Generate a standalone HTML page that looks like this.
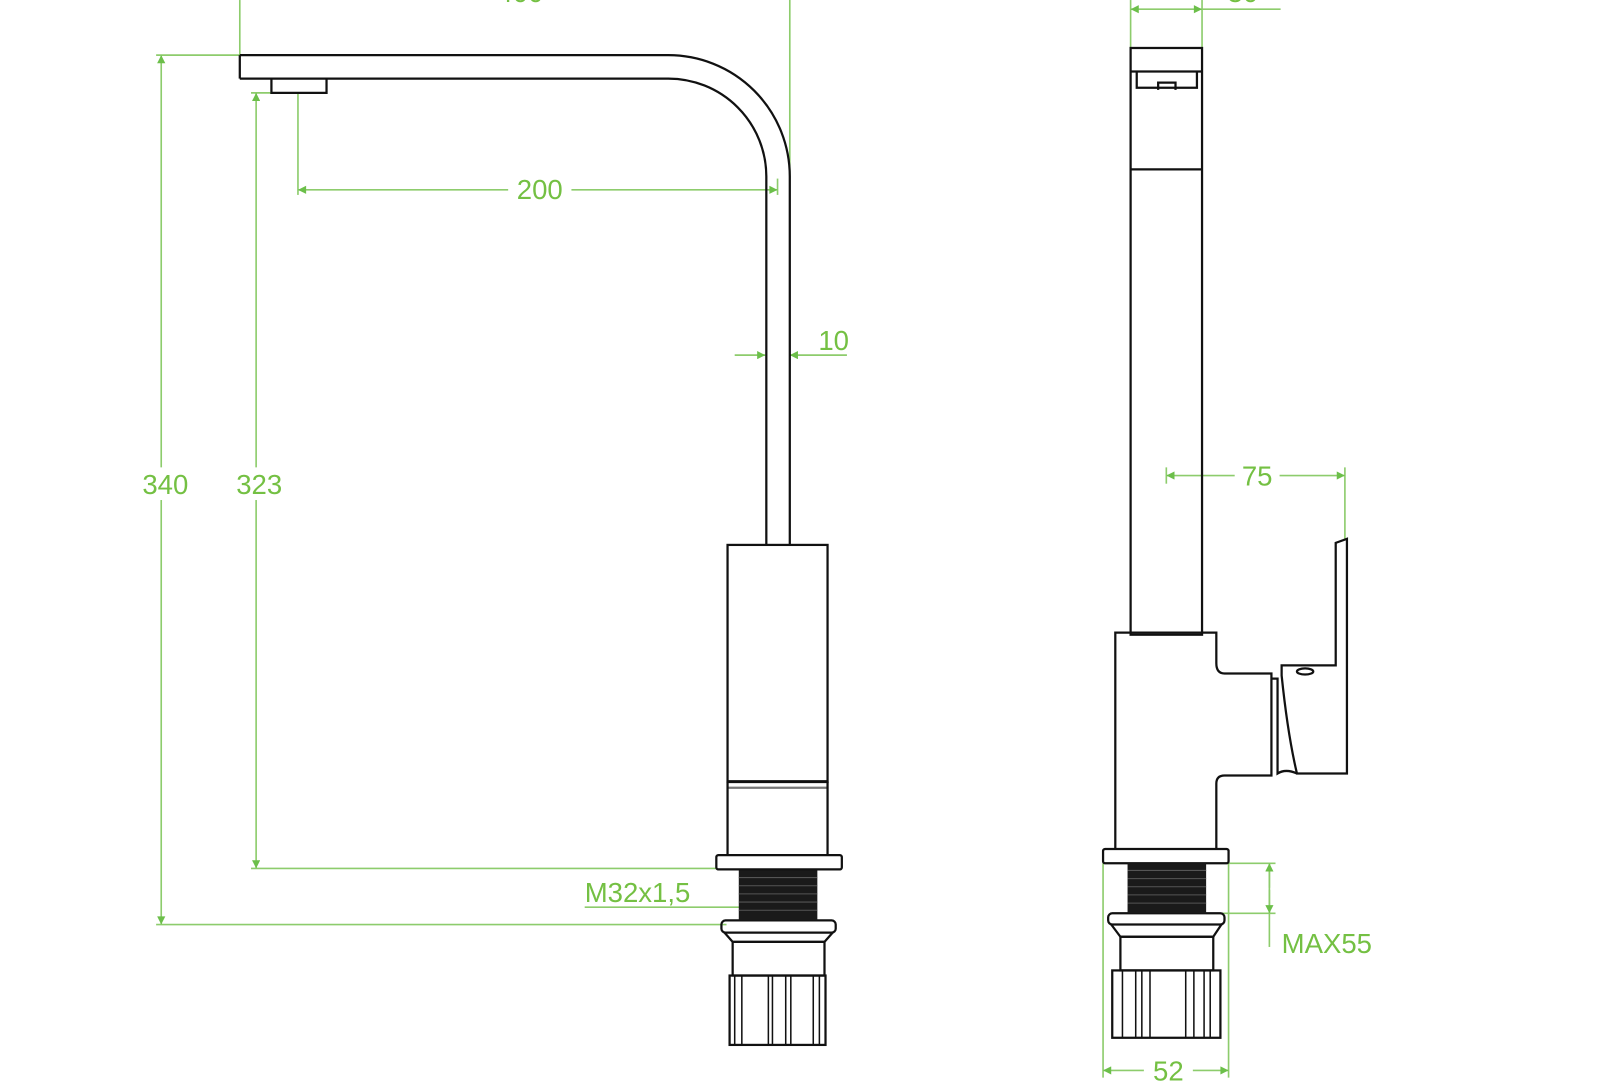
<!DOCTYPE html>
<html><head><meta charset="utf-8"><style>html,body{margin:0;padding:0;background:#fff}svg{display:block}</style></head>
<body>
<svg width="1600" height="1088" viewBox="0 0 1568 1066.2" xmlns="http://www.w3.org/2000/svg">
<defs>
<marker id="a" viewBox="0 0 10 10" refX="10" refY="5" markerWidth="13" markerHeight="8" markerUnits="userSpaceOnUse" orient="auto"><path d="M0,0L10,5L0,10z" fill="#6cbf4a"/></marker>
<marker id="s" viewBox="0 0 10 10" refX="0" refY="5" markerWidth="13" markerHeight="8" markerUnits="userSpaceOnUse" orient="auto"><path d="M10,0L0,5L10,10z" fill="#6cbf4a"/></marker>
</defs>
<g fill="none" stroke="#8dcc6c" stroke-width="1.6">
<line x1="235" y1="0" x2="235" y2="54"/><line x1="774" y1="0" x2="774" y2="175"/>
<line x1="153" y1="54" x2="235" y2="54"/><line x1="153" y1="906" x2="712" y2="906"/>
<line x1="158" y1="54" x2="158" y2="906" marker-start="url(#s)" marker-end="url(#a)"/>
<line x1="246" y1="91" x2="266" y2="91"/><line x1="246" y1="851" x2="702" y2="851"/>
<line x1="251" y1="91" x2="251" y2="851" marker-start="url(#s)" marker-end="url(#a)"/>
<line x1="292" y1="91" x2="292" y2="191"/><line x1="762" y1="175" x2="762" y2="191"/>
<line x1="292" y1="186" x2="762" y2="186" marker-start="url(#s)" marker-end="url(#a)"/>
<line x1="720" y1="348" x2="750" y2="348" marker-end="url(#a)"/>
<line x1="830" y1="348" x2="774" y2="348" marker-end="url(#a)"/>
<line x1="573" y1="889" x2="725" y2="889"/>
<line x1="1108" y1="0" x2="1108" y2="47"/><line x1="1178" y1="0" x2="1178" y2="47"/>
<line x1="1108" y1="9" x2="1178" y2="9" marker-start="url(#s)" marker-end="url(#a)"/>
<line x1="1178" y1="9" x2="1255" y2="9"/>
<line x1="1143" y1="458" x2="1143" y2="474"/><line x1="1318" y1="458" x2="1318" y2="528"/>
<line x1="1143" y1="466" x2="1318" y2="466" marker-start="url(#s)" marker-end="url(#a)"/>
<line x1="1204" y1="846" x2="1250" y2="846"/><line x1="1182" y1="895" x2="1250" y2="895"/>
<line x1="1244" y1="846" x2="1244" y2="928"/>
<line x1="1244" y1="870" x2="1244" y2="846" marker-end="url(#a)"/>
<line x1="1244" y1="872" x2="1244" y2="895" marker-end="url(#a)"/>
<line x1="1081" y1="846" x2="1081" y2="1056"/><line x1="1204" y1="846" x2="1204" y2="1056"/>
<line x1="1081" y1="1049" x2="1204" y2="1049" marker-start="url(#s)" marker-end="url(#a)"/>
</g>
<g font-family="Liberation Sans, sans-serif" font-size="27" fill="#74c043" text-anchor="middle">
<rect x="134" y="458" width="56" height="32" fill="#fff"/><text x="162" y="484">340</text>
<rect x="226" y="458" width="56" height="32" fill="#fff"/><text x="254" y="484">323</text>
<rect x="498" y="170" width="62" height="32" fill="#fff"/><text x="529" y="195">200</text>
<text x="817" y="343">10</text>
<rect x="1210" y="450" width="44" height="32" fill="#fff"/><text x="1232" y="476">75</text>
<rect x="1121" y="1033" width="48" height="32" fill="#fff"/><text x="1145" y="1059">52</text>
<text x="1256" y="934" text-anchor="start">MAX55</text>
<text x="573" y="884" text-anchor="start">M32x1,5</text>
<text x="510" y="2">400</text><text x="1218" y="2">30</text>
</g>
<g fill="none" stroke="#111" stroke-width="2.2">
<path d="M235,54H655A119,119 0 0 1 774,173V534"/>
<path d="M235,77H655A96,96 0 0 1 751,173V534"/>
<line x1="235" y1="54" x2="235" y2="77"/>
<path d="M266,77V91H320V77"/>
<rect x="713" y="534" width="98" height="232"/>
<line x1="713" y1="766" x2="811" y2="766" stroke-width="3"/>
<line x1="713" y1="772" x2="811" y2="772" stroke="#777"/>
<path d="M713,766V838M811,766V838"/>
<rect x="702" y="838" width="123" height="14" rx="2"/>
<rect x="707" y="902" width="112" height="12" rx="4"/>
<path d="M710,914L718,923H808L816,914"/>
<rect x="718" y="923" width="90" height="33"/>
<rect x="715" y="956" width="94" height="68"/>
<path d="M720,956V1024M727,956V1024M753,956V1024M757,956V1024M770,956V1024M775,956V1024M797,956V1024M803,956V1024" stroke-width="1.5"/>
<rect x="1108" y="47" width="70" height="575"/>
<line x1="1108" y1="70" x2="1178" y2="70"/>
<path d="M1114,70V86H1173V70"/>
<path d="M1135,88V81H1152V88"/>
<line x1="1108" y1="166" x2="1178" y2="166"/>
<path d="M1093,832V620H1192V650Q1192,660 1200,660H1246V760H1200Q1192,760 1192,768V832"/>
<path d="M1246,665H1252V758Q1260,753 1271,758"/>
<path d="M1256,662Q1262,720 1271,758H1320V528L1309,532V652H1256Z"/>
<ellipse cx="1279" cy="658" rx="8" ry="3"/>
<rect x="1081" y="832" width="123" height="14" rx="2"/>
<rect x="1086" y="895" width="114" height="11" rx="4"/>
<path d="M1089,906L1098,918H1189L1197,906"/>
<rect x="1098" y="918" width="91" height="33"/>
<rect x="1090" y="951" width="106" height="66"/>
<path d="M1100,951V1017M1113,951V1017M1119,951V1017M1127,951V1017M1162,951V1017M1170,951V1017M1180,951V1017M1186,951V1017" stroke-width="1.5"/>
</g>
<g fill="#1a1a1a">
<rect x="724" y="853" width="77" height="49"/>
<rect x="1105" y="846" width="77" height="49"/>
</g>
<g stroke="#555" stroke-width="1">
<path d="M724,860H801M724,868H801M724,876H801M724,884H801M724,892H801M1105,853H1182M1105,861H1182M1105,869H1182M1105,877H1182M1105,885H1182"/>
</g>
</svg>
</body></html>
